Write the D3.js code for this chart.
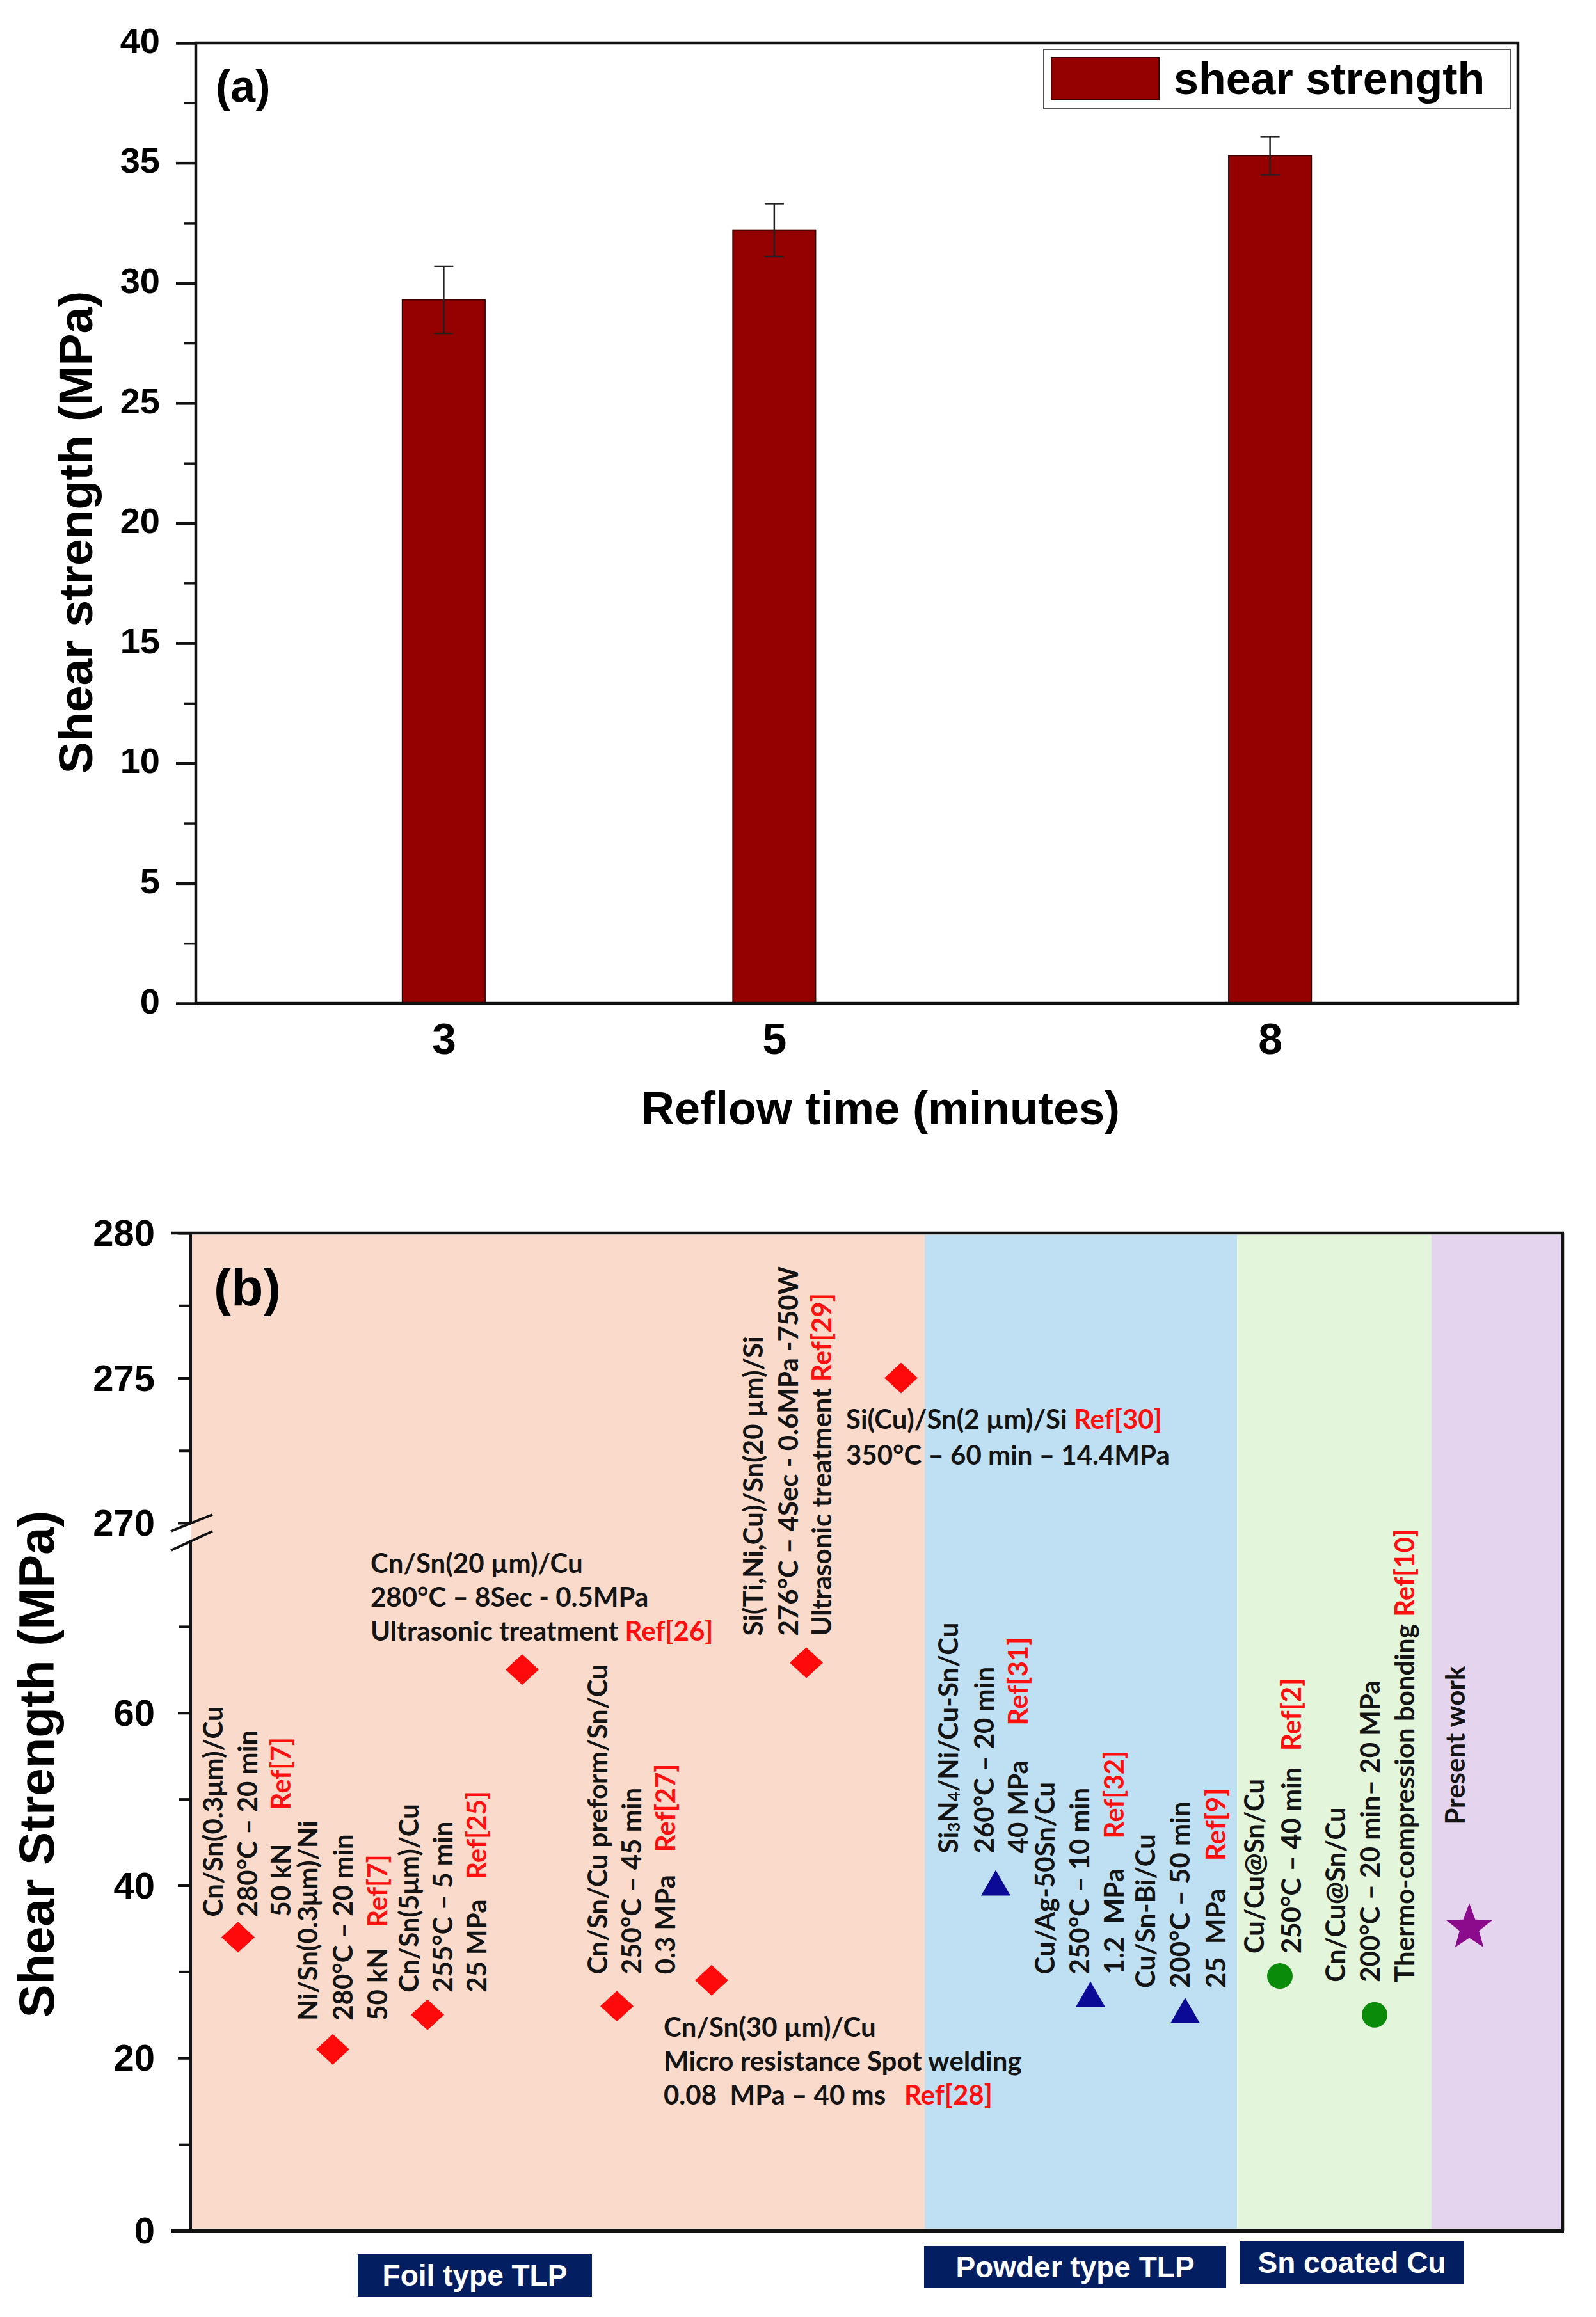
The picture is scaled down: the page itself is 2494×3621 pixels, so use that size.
<!DOCTYPE html>
<html>
<head>
<meta charset="utf-8">
<script src="https://cdn.jsdelivr.net/npm/d3@7"></script>
<style>body{margin:0;background:#fff}</style>
</head>
<body>
<script>
// ================= DATA =================
// Panel (a)
const reflowTimes = [3, 5, 8];
const shearStrength = [29.3, 32.2, 35.3];
const shearError = [1.4, 1.1, 0.8];
const yTicksA = [0, 5, 10, 15, 20, 25, 30, 35, 40];
const yMinorA = [2.5, 7.5, 12.5, 17.5, 22.5, 27.5, 32.5, 37.5];
const legendLabelA = "shear strength";

// Panel (b)
const jointIndex = [1, 2, 3, 4, 5, 6, 7, 8, 9, 10, 11, 12, 13, 14];
const jointStrength = [34, 21, 25, 65, 26, 29, 65.8, 275, 40.3, 27.4, 25.5, 29.5, 25, 35.1];
const jointGroup = ["Foil type TLP","Foil type TLP","Foil type TLP","Foil type TLP","Foil type TLP","Foil type TLP","Foil type TLP","Foil type TLP",
                    "Powder type TLP","Powder type TLP","Powder type TLP","Sn coated Cu","Sn coated Cu","Present work"];
const groupNames = ["Foil type TLP", "Powder type TLP", "Sn coated Cu", "Present work"];
const groupBounds = [0.5, 8.25, 11.55, 13.6, 15];
const lowerTicksB = [0, 20, 40, 60];
const lowerMinorB = [10, 30, 50, 70];
const upperTicksB = [270, 275, 280];
const upperMinorB = [272.5, 277.5];
// each note: list of lines [text, ref]
const jointNotes = [
  [["Cn/Sn(0.3μm)/Cu",""],["280°C – 20 min",""],["50 kN","Ref[7]"]],
  [["Ni/Sn(0.3μm)/Ni",""],["280°C – 20 min",""],["50 kN","Ref[7]"]],
  [["Cn/Sn(5μm)/Cu",""],["255°C – 5 min",""],["25 MPa","Ref[25]"]],
  [["Cn/Sn(20 µm)/Cu",""],["280°C – 8Sec - 0.5MPa",""],["Ultrasonic treatment","Ref[26]"]],
  [["Cn/Sn/Cu preform/Sn/Cu",""],["250°C – 45 min",""],["0.3 MPa","Ref[27]"]],
  [["Cn/Sn(30 µm)/Cu",""],["Micro resistance Spot welding",""],["0.08  MPa – 40 ms","Ref[28]"]],
  [["Si(Ti,Ni,Cu)/Sn(20 µm)/Si",""],["276°C – 4Sec - 0.6MPa -750W",""],["Ultrasonic treatment","Ref[29]"]],
  [["Si(Cu)/Sn(2 µm)/Si","Ref[30]"],["350°C – 60 min – 14.4MPa",""]],
  [["Si_3N_4/Ni/Cu-Sn/Cu",""],["260°C – 20 min",""],["40 MPa","Ref[31]"]],
  [["Cu/Ag-50Sn/Cu",""],["250°C – 10 min",""],["1.2  MPa","Ref[32]"]],
  [["Cu/Sn-Bi/Cu",""],["200°C – 50 min",""],["25  MPa","Ref[9]"]],
  [["Cu/Cu@Sn/Cu",""],["250°C – 40 min","Ref[2]"]],
  [["Cn/Cu@Sn/Cu",""],["200°C – 20 min– 20 MPa",""],["Thermo-compression bonding","Ref[10]"]],
  [["Present work",""]]
];

// ================= STYLE / LAYOUT =================
const W = 2494, H = 3621;
const ARIAL = "'Liberation Sans', Arial, Helvetica, sans-serif";
const CAL = "Lato, 'Open Sans', sans-serif";
const AX = "#111";
const barColor = "#950000";
const groupFill = {"Foil type TLP":"#FADBCB","Powder type TLP":"#BEE0F2","Sn coated Cu":"#E3F5DA","Present work":"#E4D4EE"};
const markerFill = {"Foil type TLP":"#FF0A0A","Powder type TLP":"#0A0A96","Sn coated Cu":"#0A8C0A","Present work":"#8C0A8C"};

const svg = d3.select("body").append("svg")
  .attr("width", W).attr("height", H)
  .style("font-family", ARIAL);

// ================= PANEL (a) =================
const xA = d3.scaleLinear().domain([1.5, 9.5]).range([306, 2372]);
const yA = d3.scaleLinear().domain([0, 40]).range([1568, 67]);

const gA = svg.append("g");
// bars
gA.selectAll("rect.bar").data(reflowTimes).join("rect")
  .attr("class","bar")
  .attr("x", d => xA(d - 0.25))
  .attr("width", d => xA(d + 0.25) - xA(d - 0.25))
  .attr("y", (d,i) => yA(shearStrength[i]))
  .attr("height", (d,i) => yA(0) - yA(shearStrength[i]))
  .attr("fill", barColor).attr("stroke", "#3a0000").attr("stroke-width", 2);
// error bars
reflowTimes.forEach((t,i) => {
  const cx = xA(t), y1 = yA(shearStrength[i] + shearError[i]), y2 = yA(shearStrength[i] - shearError[i]);
  gA.append("line").attr("x1",cx).attr("x2",cx).attr("y1",y1).attr("y2",y2).attr("stroke","#222").attr("stroke-width",2.5);
  [y1,y2].forEach(y => gA.append("line").attr("x1",cx-15).attr("x2",cx+15).attr("y1",y).attr("y2",y).attr("stroke","#222").attr("stroke-width",2.5));
});
// y axis
const axA = gA.append("g").attr("transform","translate(306,0)")
  .call(d3.axisLeft(yA).tickValues(yTicksA).tickSize(31).tickPadding(25).tickFormat(d3.format("d")));
axA.select(".domain").remove();
axA.selectAll(".tick line").attr("stroke",AX).attr("stroke-width",4.5);
axA.selectAll(".tick text").attr("font-size",56).attr("font-weight","bold").attr("fill","#000")
  .attr("font-family",ARIAL).attr("dy","0.27em");
const axAm = gA.append("g").attr("transform","translate(306,0)")
  .call(d3.axisLeft(yA).tickValues(yMinorA).tickSize(18).tickFormat(""));
axAm.select(".domain").remove();
axAm.selectAll(".tick line").attr("stroke",AX).attr("stroke-width",3.5);
// x axis labels
const axAx = gA.append("g").attr("transform","translate(0,1568)")
  .call(d3.axisBottom(xA).tickValues(reflowTimes).tickSize(0).tickPadding(31).tickFormat(d3.format("d")));
axAx.select(".domain").remove();
axAx.selectAll(".tick text").attr("font-size",68).attr("font-weight","bold").attr("fill","#000").attr("font-family",ARIAL);
// frame
gA.append("rect").attr("x",306).attr("y",67).attr("width",2372-306).attr("height",1568-67)
  .attr("fill","none").attr("stroke",AX).attr("stroke-width",4.5);
// axis titles
gA.append("text").attr("x",1376).attr("y",1757).attr("text-anchor","middle")
  .attr("font-size",72).attr("font-weight","bold").text("Reflow time (minutes)");
gA.append("text").attr("transform","translate(144,832) rotate(-90)").attr("text-anchor","middle")
  .attr("font-size",75).attr("font-weight","bold").text("Shear strength (MPa)");
gA.append("text").attr("x",337).attr("y",159).attr("font-size",70).attr("font-weight","bold").text("(a)");
// legend
gA.append("rect").attr("x",1631).attr("y",77).attr("width",2360-1631).attr("height",170-77)
  .attr("fill","#fff").attr("stroke","#555").attr("stroke-width",2);
gA.append("rect").attr("x",1643).attr("y",90).attr("width",168).attr("height",66)
  .attr("fill",barColor).attr("stroke","#3a0000").attr("stroke-width",2);
gA.append("text").attr("x",1834).attr("y",147).attr("font-size",70).attr("font-weight","bold").text(legendLabelA);

// ================= PANEL (b) =================
const xB = d3.scaleLinear().domain([0.5, 15]).range([298, 2444]);
const yLow = d3.scaleLinear().domain([0, 80]).range([3486, 2407]);
const yUp = d3.scaleLinear().domain([270, 280]).range([2380, 1927]);
const yB = v => v >= 270 ? yUp(v) : yLow(v);

const gB = svg.append("g");
// group regions
groupNames.forEach((g,i) => {
  gB.append("rect").attr("x", xB(groupBounds[i])).attr("width", xB(groupBounds[i+1]) - xB(groupBounds[i]))
    .attr("y", 1930).attr("height", 3484 - 1930).attr("fill", groupFill[g]);
});
// frame lines (top, right, bottom)
gB.append("line").attr("x1",267).attr("x2",2444).attr("y1",1927).attr("y2",1927).attr("stroke",AX).attr("stroke-width",4.5);
gB.append("line").attr("x1",2442).attr("x2",2442).attr("y1",1927).attr("y2",3486).attr("stroke",AX).attr("stroke-width",4.5);
gB.append("line").attr("x1",267).attr("x2",2444).attr("y1",3486).attr("y2",3486).attr("stroke",AX).attr("stroke-width",6);
// left axis segments
gB.append("line").attr("x1",298).attr("x2",298).attr("y1",1927).attr("y2",yUp(270)+1).attr("stroke",AX).attr("stroke-width",4);
gB.append("line").attr("x1",298).attr("x2",298).attr("y1",yLow(80)).attr("y2",3486).attr("stroke",AX).attr("stroke-width",4);
// break marks
[[2393,2367],[2423,2393]].forEach(([ya,yb]) => {
  gB.append("line").attr("x1",267).attr("y1",ya).attr("x2",332).attr("y2",yb).attr("stroke",AX).attr("stroke-width",4);
});
function leftTicks(scale, major, minor) {
  const a = gB.append("g").attr("transform","translate(298,0)")
    .call(d3.axisLeft(scale).tickValues(major).tickSize(20).tickPadding(36).tickFormat(d3.format("d")));
  a.select(".domain").remove();
  a.selectAll(".tick line").attr("stroke",AX).attr("stroke-width",4);
  a.selectAll(".tick text").attr("font-size",58).attr("font-weight","bold").attr("fill","#000")
    .attr("font-family",ARIAL).attr("dy","0.34em");
  const m = gB.append("g").attr("transform","translate(298,0)")
    .call(d3.axisLeft(scale).tickValues(minor).tickSize(18).tickFormat(""));
  m.select(".domain").remove();
  m.selectAll(".tick line").attr("stroke",AX).attr("stroke-width",4);
}
leftTicks(yLow, lowerTicksB, lowerMinorB);
leftTicks(yUp, upperTicksB, upperMinorB);

// y title and panel label
gB.append("text").attr("transform","translate(84,2757) rotate(-90)").attr("text-anchor","middle")
  .attr("font-size",78).attr("font-weight","bold").text("Shear Strength (MPa)");
gB.append("text").attr("x",334).attr("y",2040).attr("font-size",82).attr("font-weight","bold").text("(b)");

// markers
function starPath(R, r) {
  const pts = [];
  for (let k = 0; k < 10; k++) {
    const ang = -Math.PI/2 + k*Math.PI/5, rad = k % 2 ? r : R;
    pts.push([rad*Math.cos(ang), rad*Math.sin(ang)]);
  }
  return "M" + pts.map(p => p.join(",")).join("L") + "Z";
}
const markerPath = {
  "Foil type TLP": "M0,-24L26,0L0,24L-26,0Z",
  "Powder type TLP": "M0,-20L23,20L-23,20Z",
  "Sn coated Cu": d3.symbol().type(d3.symbolCircle).size(Math.PI*20*20)(),
  "Present work": starPath(38, 16)
};
gB.selectAll("path.mk").data(jointIndex).join("path").attr("class","mk")
  .attr("transform", (d,i) => `translate(${xB(d)},${yB(jointStrength[i])})`)
  .attr("d", (d,i) => markerPath[jointGroup[i]])
  .attr("fill", (d,i) => markerFill[jointGroup[i]]);

// annotations (layout: offsets relative to each marker)
const noteLayout = [
  {o:"v", dx:[-40,14,66], dy:-32, ref:167},
  {o:"v", dx:[-40,15,69], dy:-45, ref:146},
  {o:"v", dx:[-30,23,76], dy:-35, ref:177},
  {o:"h", dx:-237, dy:[-151,-98,-45], ref:null},
  {o:"v", dx:[-31,22,75], dy:-50, ref:191},
  {o:"h", dx:-75, dy:[88,141,194], ref:376},
  {o:"v", dx:[-84,-29,23], dy:-42, ref:null},
  {o:"h", dx:-86, dy:[79,135], ref:null},
  {o:"v", dx:[-75,-19,34], dy:-46, ref:200},
  {o:"v", dx:[-72,-18,36], dy:-31, ref:212},
  {o:"v", dx:[-63,-9,47], dy:-35, ref:199},
  {o:"v", dx:[-41,17], dy:-35, ref:317},
  {o:"v", dx:[-62,-8,46], dy:-51, ref:571},
  {o:"v", dx:[-23], dy:-161, ref:null}
];
const NOTE_FS = 42;
function addRich(textSel, str) {
  // handle subscripts written as _d
  const parts = str.split(/(_\d)/);
  let sub = false;
  parts.forEach(p => {
    if (!p) return;
    if (/^_\d$/.test(p)) {
      textSel.append("tspan").attr("font-size", NOTE_FS*0.62).attr("dy", 9).text(p[1]);
      sub = true;
    } else {
      const t = textSel.append("tspan").text(p);
      if (sub) { t.attr("dy", -9); sub = false; }
    }
  });
}
jointIndex.forEach((d,i) => {
  const px = xB(d), py = yB(jointStrength[i]);
  const L = noteLayout[i], lines = jointNotes[i];
  lines.forEach((ln, j) => {
    const [txt, ref] = ln;
    let t;
    if (L.o === "v") {
      const cx = px + L.dx[j], sy = py + L.dy;
      t = gB.append("text").attr("transform", `translate(${cx},${sy}) rotate(-90)`)
        .attr("dominant-baseline","central");
    } else {
      t = gB.append("text").attr("x", px + L.dx).attr("y", py + L.dy[j]);
    }
    t.attr("font-family", CAL).attr("font-weight","bold").attr("font-size", NOTE_FS).attr("fill","#141414")
      .style("white-space","pre");
    addRich(t, txt);
    if (ref) {
      if (L.ref === null) {
        t.append("tspan").attr("fill","#FF1010").text(" " + ref);
      } else {
        let r;
        if (L.o === "v") {
          r = gB.append("text").attr("transform", `translate(${px + L.dx[j]},${py + L.dy - L.ref}) rotate(-90)`)
            .attr("dominant-baseline","central");
        } else {
          r = gB.append("text").attr("x", px + L.dx + L.ref).attr("y", py + L.dy[j]);
        }
        r.attr("font-family", CAL).attr("font-weight","bold").attr("font-size", NOTE_FS).attr("fill","#FF1010").text(ref);
      }
    }
  });
});

// group label boxes (below axis)
const boxLayout = [
  {x0:559, x1:925, y0:3523, y1:3589},
  {x0:1444, x1:1916, y0:3510, y1:3576},
  {x0:1937, x1:2288, y0:3503, y1:3569}
];
boxLayout.forEach((b,i) => {
  gB.append("rect").attr("x",b.x0).attr("y",b.y0).attr("width",b.x1-b.x0).attr("height",b.y1-b.y0).attr("fill","#041E62");
  gB.append("text").attr("x",(b.x0+b.x1)/2).attr("y",(b.y0+b.y1)/2+16).attr("text-anchor","middle")
    .attr("font-size",46).attr("font-weight","bold").attr("fill","#fff").text(groupNames[i]);
});
</script>
</body>
</html>
